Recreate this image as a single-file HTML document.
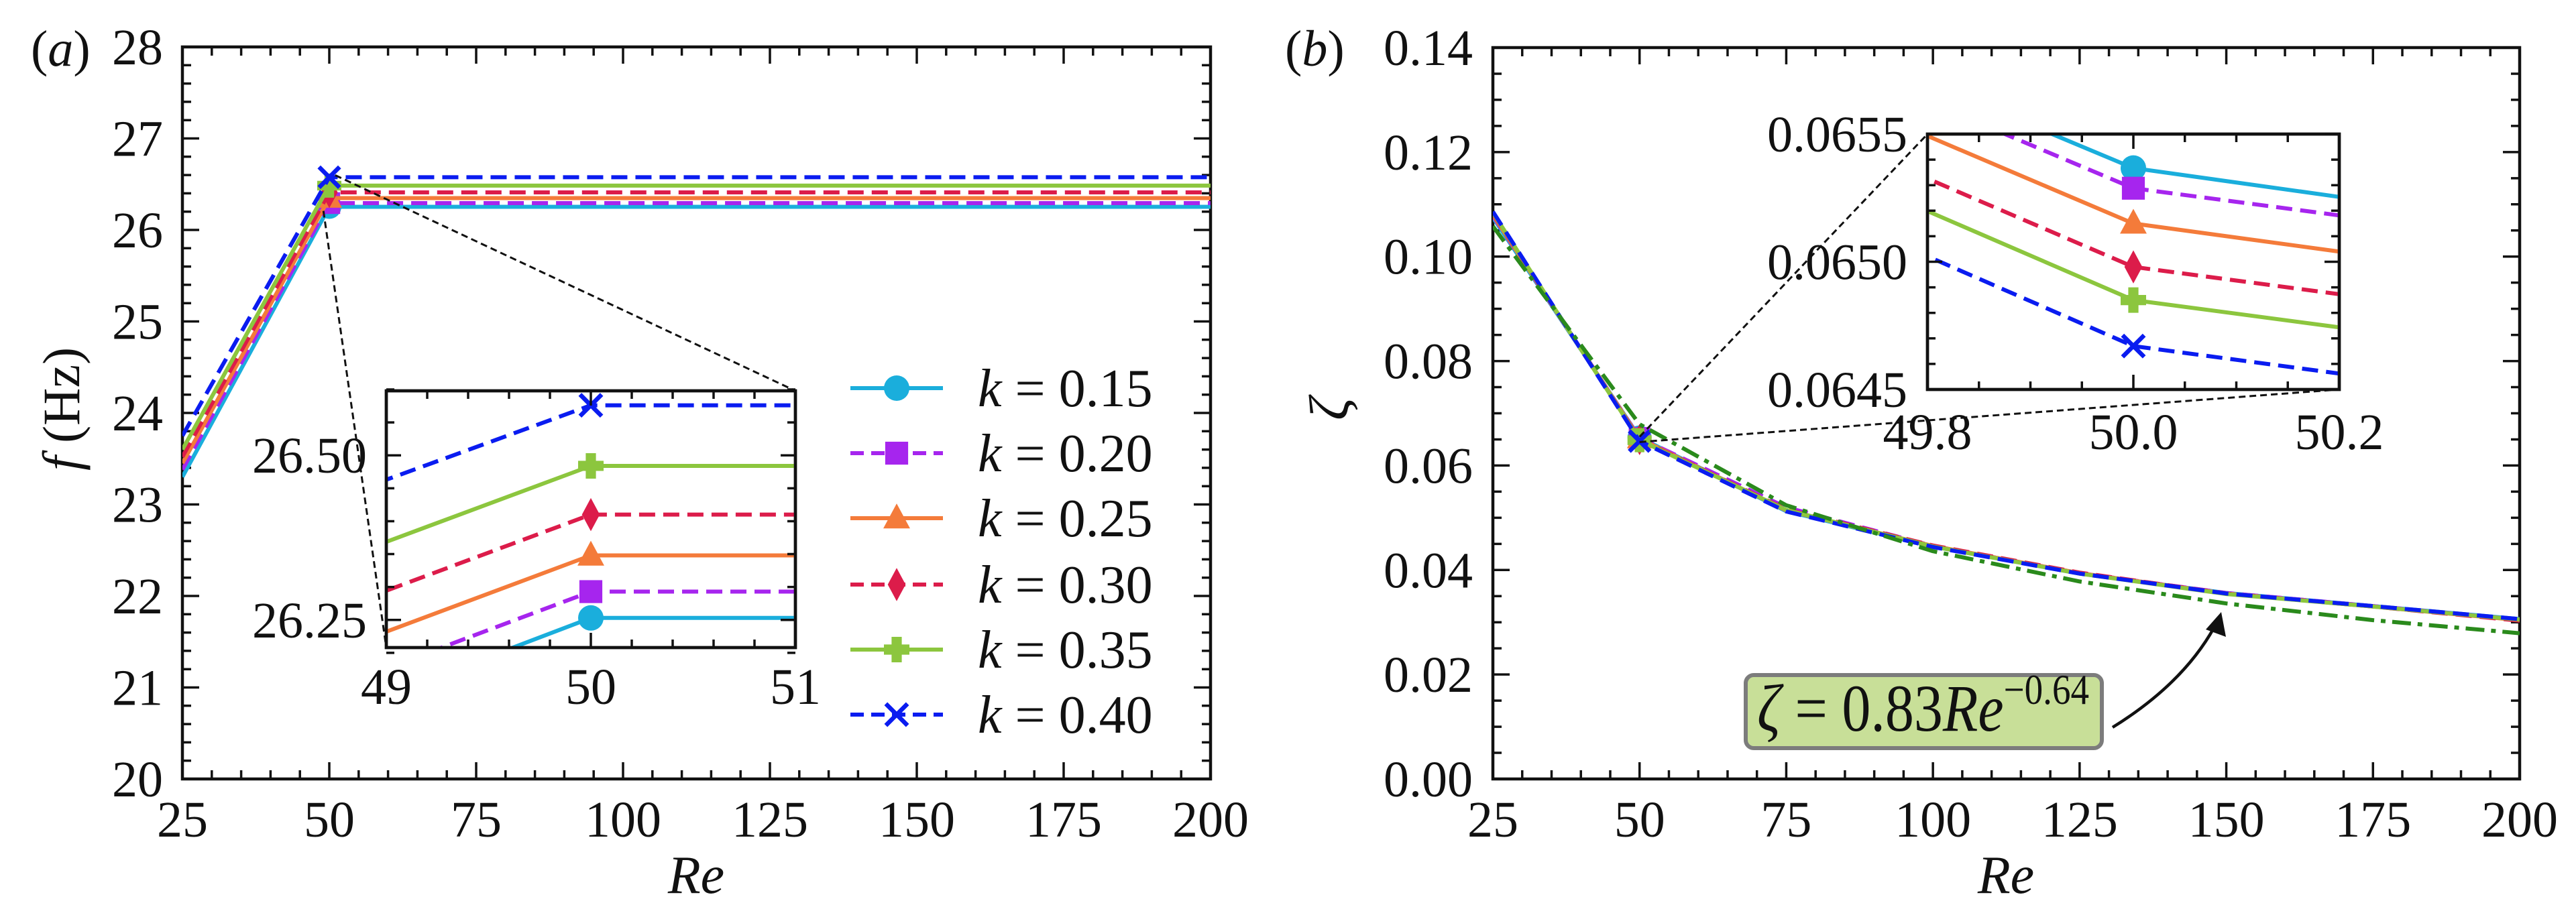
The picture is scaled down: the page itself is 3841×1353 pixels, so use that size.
<!DOCTYPE html>
<html><head><meta charset="utf-8"><style>
html,body{margin:0;padding:0;background:#fff;width:3841px;height:1353px;overflow:hidden;position:relative;}
svg{display:block;position:absolute;left:0;top:0;overflow:hidden;}
text{font-family:"Liberation Serif","DejaVu Serif",serif;fill:#111;}
</style></head><body>
<svg id="fig" width="3841" height="1353" viewBox="0 0 3841 1353" xmlns="http://www.w3.org/2000/svg">
<defs>
<clipPath id="clipA"><rect x="272" y="70" width="1533" height="1092"/></clipPath>
<clipPath id="clipB"><rect x="2226" y="71" width="1531" height="1091"/></clipPath>
<clipPath id="clipIA"><rect x="576" y="583" width="610" height="383"/></clipPath>
<clipPath id="clipIB"><rect x="2874" y="200" width="614" height="381"/></clipPath>
</defs>
</svg>
<script>
// ---------- data ----------
const reValues = [25, 50, 75, 100, 125, 150, 175, 200];
const kLabels = ["0.15", "0.20", "0.25", "0.30", "0.35", "0.40"];
const freq015 = [23.30, 26.253, 26.253, 26.253, 26.253, 26.253, 26.253, 26.253];
const freq020 = [23.38, 26.293, 26.293, 26.293, 26.293, 26.293, 26.293, 26.293];
const freq025 = [23.45, 26.348, 26.348, 26.348, 26.348, 26.348, 26.348, 26.348];
const freq030 = [23.52, 26.410, 26.410, 26.410, 26.410, 26.410, 26.410, 26.410];
const freq035 = [23.60, 26.484, 26.484, 26.484, 26.484, 26.484, 26.484, 26.484];
const freq040 = [23.75, 26.576, 26.576, 26.576, 26.576, 26.576, 26.576, 26.576];
const zeta015 = [0.1075, 0.065367, 0.05125, 0.0445, 0.0393, 0.0356, 0.0331, 0.0306];
const zeta020 = [0.1078, 0.065288, 0.05200, 0.0446, 0.0394, 0.0356, 0.0331, 0.0305];
const zeta025 = [0.1080, 0.065150, 0.05140, 0.0446, 0.0394, 0.0355, 0.0330, 0.0304];
const zeta030 = [0.1082, 0.064980, 0.05160, 0.0447, 0.0395, 0.0355, 0.0330, 0.0303];
const zeta035 = [0.1084, 0.064850, 0.05150, 0.0445, 0.0393, 0.0354, 0.0330, 0.0305];
const zeta040 = [0.1086, 0.064670, 0.05120, 0.0444, 0.0393, 0.0355, 0.0331, 0.0306];
const zetaFit = [0.1058, 0.0679, 0.0524, 0.0436, 0.0378, 0.0336, 0.0304, 0.0279];
const xTicksMain = [25, 50, 75, 100, 125, 150, 175, 200];
const yTicksA = [20, 21, 22, 23, 24, 25, 26, 27, 28];
const yTicksB = [0.00, 0.02, 0.04, 0.06, 0.08, 0.10, 0.12, 0.14];
const xTicksInsetA = [49, 50, 51];
const yTicksInsetA = [26.25, 26.50];
const xTicksInsetB = [49.8, 50.0, 50.2];
const yTicksInsetB = [0.0645, 0.0650, 0.0655];

// ---------- styles ----------
const colors = ["#1aaedc", "#a625ee", "#f47b3a", "#dc1c4a", "#8cc63e", "#0a1cf0"];
const dashes = [null, "24 12", null, "24 12", null, "24 12"];
const markers = ["circle", "square", "triangle", "diamond", "plus", "x"];
const freqSeries = [freq015, freq020, freq025, freq030, freq035, freq040];
const zetaSeries = [zeta015, zeta020, zeta025, zeta030, zeta035, zeta040];

const NS = "http://www.w3.org/2000/svg";
const svg = document.getElementById("fig");
function mk(tag, attrs, parent) {
  const e = document.createElementNS(NS, tag);
  for (const k in attrs) e.setAttribute(k, attrs[k]);
  (parent || svg).appendChild(e);
  return e;
}
function scale(d0, d1, r0, r1) { return v => r0 + (v - d0) / (d1 - d0) * (r1 - r0); }

const axA = {x0:272, x1:1805, y0:70, y1:1162, sx: scale(25,200,272,1805), sy: scale(20,28,1162,70)};
const axB = {x0:2226, x1:3757, y0:71, y1:1162, sx: scale(25,200,2226,3757), sy: scale(0,0.14,1162,71)};
const inA = {x0:576, x1:1186, y0:583, y1:966, sx: scale(49,51,576,1186), sy: scale(26.208,26.598,966,583)};
const inB = {x0:2874, x1:3488, y0:200, y1:581, sx: scale(49.8,50.2,2874,3488), sy: scale(0.0645,0.0655,581,200)};

function drawMarker(parent, type, cx, cy, color, r) {
  let e;
  if (type === "circle") e = mk("circle", {cx, cy, r, fill: color}, parent);
  else if (type === "square") e = mk("rect", {x: cx - r*0.9, y: cy - r*0.9, width: r*1.8, height: r*1.8, fill: color}, parent);
  else if (type === "triangle") e = mk("polygon", {points: `${cx},${cy-r*1.15} ${cx+r*1.05},${cy+r*0.8} ${cx-r*1.05},${cy+r*0.8}`, fill: color}, parent);
  else if (type === "diamond") e = mk("polygon", {points: `${cx},${cy-r*1.3} ${cx+r*0.7},${cy} ${cx},${cy+r*1.3} ${cx-r*0.7},${cy}`, fill: color}, parent);
  else if (type === "plus") e = mk("path", {d: `M${cx-r},${cy} H${cx+r} M${cx},${cy-r} V${cy+r}`, stroke: color, "stroke-width": r*0.8, fill: "none"}, parent);
  else e = mk("path", {d: `M${cx-r*0.85},${cy-r*0.85} L${cx+r*0.85},${cy+r*0.85} M${cx-r*0.85},${cy+r*0.85} L${cx+r*0.85},${cy-r*0.85}`, stroke: color, "stroke-width": 6.5, fill: "none"}, parent);
  
  
  return e;
}

function drawSeries(ax, clipId, xs, series, markerIdx, r, name) {
  const g = mk("g", {"clip-path": `url(#${clipId})`});
  
  
  series.forEach((ys, i) => {
    const pts = xs.map((x, j) => `${ax.sx(x).toFixed(1)},${ax.sy(ys[j]).toFixed(1)}`).join(" ");
    const attrs = {points: pts, fill: "none", stroke: colors[i], "stroke-width": 6, "stroke-linejoin": "round"};
    if (dashes[i]) attrs["stroke-dasharray"] = dashes[i];
    const pl = mk("polyline", attrs, g);
    
    
    drawMarker(g, markers[i], ax.sx(xs[markerIdx]), ax.sy(ys[markerIdx]), colors[i], r);
  });
  return g;
}

function frame(ax, name, fill) {
  const r = mk("rect", {x: ax.x0, y: ax.y0, width: ax.x1 - ax.x0, height: ax.y1 - ax.y0, fill: fill || "none", stroke: "#111", "stroke-width": 4.5});
  
  
  return r;
}

function ticks(ax, majX, minX, majY, minY, majLen, minLen, name) {
  const g = mk("g", {stroke: "#111", "stroke-width": 3.5});
  
  
  let d = "";
  const addX = (v, L) => { const x = ax.sx(v); d += `M${x},${ax.y1} v${-L} M${x},${ax.y0} v${L} `; };
  const addY = (v, L) => { const y = ax.sy(v); d += `M${ax.x0},${y} h${L} M${ax.x1},${y} h${-L} `; };
  majX.forEach(v => addX(v, majLen)); minX.forEach(v => addX(v, minLen));
  majY.forEach(v => addY(v, majLen)); minY.forEach(v => addY(v, minLen));
  mk("path", {d}, g);
  return g;
}

function range(a, b, s) { const o = []; for (let v = a; v <= b + s*1e-6; v += s) o.push(+v.toFixed(6)); return o; }

function label(x, y, str, size, anchor, name, italic) {
  const t = mk("text", {x, y, "font-size": size, "text-anchor": anchor || "middle"});
  if (italic) t.setAttribute("font-style", "italic");
  t.textContent = str;
  
  
  return t;
}

// ================= Panel A =================
frame(axA, "panel-a-frame");
ticks(axA, xTicksMain, range(25, 200, 5), yTicksA, range(20, 28, 0.2), 25, 13, "panel-a-ticks");
drawSeries(axA, "clipA", reValues, freqSeries, 1, 18, "panel-a");
xTicksMain.forEach(v => label(axA.sx(v), 1248, String(v), 76, "middle", "panel-a-x-tick-label"));
yTicksA.forEach(v => label(243, axA.sy(v) + 26, String(v), 76, "end", "panel-a-y-tick-label"));
label(1038, 1332, "Re", 80, "middle", "panel-a-x-axis-title", true);
{
  const t = mk("text", {x: 0, y: 0, "font-size": 78, "text-anchor": "middle", transform: "translate(118,610) rotate(-90)"});
  t.innerHTML = '<tspan font-style="italic">f</tspan> (Hz)';
  
  
}
{
  const t = mk("text", {x: 46, y: 98, "font-size": 76});
  t.innerHTML = '(<tspan font-style="italic">a</tspan>)';
  
  
}
// zoom connectors A
{
  const c1 = mk("line", {x1: axA.sx(49), y1: axA.sy(26.208), x2: inA.x0, y2: inA.y1, stroke: "#111", "stroke-width": 3, "stroke-dasharray": "10 6"});
  
  
  const c2 = mk("line", {x1: axA.sx(51), y1: axA.sy(26.598), x2: inA.x1, y2: inA.y0, stroke: "#111", "stroke-width": 3, "stroke-dasharray": "10 6"});
  
  
}
// inset A
frame(inA, "panel-a-inset-background", "#fff");
drawSeries(inA, "clipIA", reValues, freqSeries, 1, 19, "panel-a-inset");
frame(inA, "panel-a-inset-frame");
ticks(inA, xTicksInsetA, range(49, 51, 0.2), yTicksInsetA, range(26.20, 26.60, 0.05), 22, 12, "panel-a-inset-ticks");
xTicksInsetA.forEach(v => label(inA.sx(v), 1050, String(v), 76, "middle", "panel-a-inset-x-tick-label"));
yTicksInsetA.forEach(v => label(547, inA.sy(v) + 26, v.toFixed(2), 76, "end", "panel-a-inset-y-tick-label"));
// legend
{
  const legendY = [579, 676, 773, 872, 969, 1066];
  const lg = mk("g", {});
  
  
  kLabels.forEach((k, i) => {
    const eg = mk("g", {}, lg);
    
    
    const a = {x1: 1268, x2: 1406, y1: legendY[i], y2: legendY[i], stroke: colors[i], "stroke-width": 6};
    if (dashes[i]) a["stroke-dasharray"] = "20 11";
    mk("line", a, eg);
    drawMarker(eg, markers[i], 1337, legendY[i], colors[i], 19);
    const t = mk("text", {x: 1458, y: legendY[i] + 27, "font-size": 80}, eg);
    t.innerHTML = `<tspan font-style="italic">k</tspan> = ${k}`;
  });
}

// ================= Panel B =================
frame(axB, "panel-b-frame");
ticks(axB, xTicksMain, range(25, 200, 5), yTicksB, range(0, 0.14, 0.005), 25, 13, "panel-b-ticks");
drawSeries(axB, "clipB", reValues, zetaSeries, 1, 18, "panel-b");
{
  const g = mk("g", {"clip-path": "url(#clipB)"});
  
  
  const pts = reValues.map((x, j) => `${axB.sx(x).toFixed(1)},${axB.sy(zetaFit[j]).toFixed(1)}`).join(" ");
  const pl = mk("polyline", {points: pts, fill: "none", stroke: "#2a8a1c", "stroke-width": 6, "stroke-dasharray": "28 10 7 10", "stroke-linejoin": "round"}, g);
  
  
}
xTicksMain.forEach(v => label(axB.sx(v), 1248, String(v), 76, "middle", "panel-b-x-tick-label"));
yTicksB.forEach(v => label(2196, axB.sy(v) + 26, v.toFixed(2), 76, "end", "panel-b-y-tick-label"));
label(2991, 1332, "Re", 80, "middle", "panel-b-x-axis-title", true);
{
  const t = mk("text", {x: 0, y: 0, "font-size": 84, "text-anchor": "middle", "font-style": "italic", transform: "translate(2010,610) rotate(-90)"});
  t.textContent = "ζ";
  
  
}
{
  const t = mk("text", {x: 1916, y: 98, "font-size": 76});
  t.innerHTML = '(<tspan font-style="italic">b</tspan>)';
  
  
}
// zoom connectors B
{
  const c1 = mk("line", {x1: axB.sx(50), y1: axB.sy(0.0655), x2: inB.x0, y2: inB.y0, stroke: "#111", "stroke-width": 3, "stroke-dasharray": "10 6"});
  
  
  const c2 = mk("line", {x1: axB.sx(50), y1: axB.sy(0.0645), x2: inB.x1, y2: inB.y1, stroke: "#111", "stroke-width": 3, "stroke-dasharray": "10 6"});
  
  
}
frame(inB, "panel-b-inset-background", "#fff");
drawSeries(inB, "clipIB", reValues, zetaSeries, 1, 19, "panel-b-inset");
frame(inB, "panel-b-inset-frame");
ticks(inB, xTicksInsetB, range(49.8, 50.2, 0.05), yTicksInsetB, range(0.0645, 0.0655, 0.0001), 22, 12, "panel-b-inset-ticks");
xTicksInsetB.forEach(v => label(inB.sx(v), 670, v.toFixed(1), 76, "middle", "panel-b-inset-x-tick-label"));
yTicksInsetB.forEach(v => label(2844, inB.sy(v) + 26, v.toFixed(4), 76, "end", "panel-b-inset-y-tick-label"));

// annotation
{
  const box = mk("rect", {x: 2603, y: 1007, width: 531, height: 109, rx: 12, fill: "#c8df98", stroke: "#7c7c7c", "stroke-width": 6});
  
  
  const t = mk("text", {x: 2620, y: 1090, "font-size": 100, textLength: 495, lengthAdjust: "spacingAndGlyphs"});
  t.innerHTML = '<tspan font-style="italic">ζ</tspan> = 0.83<tspan font-style="italic">Re</tspan><tspan font-size="64" dy="-40">−0.64</tspan>';
  
  
  const ar = mk("path", {d: "M3150,1085 Q3255,1020 3302,935", fill: "none", stroke: "#111", "stroke-width": 4.5});
  
  
  const ah = mk("polygon", {points: "3312,913 3319,950 3289,939", fill: "#111"});
  
  
}
</script>
</body></html>
